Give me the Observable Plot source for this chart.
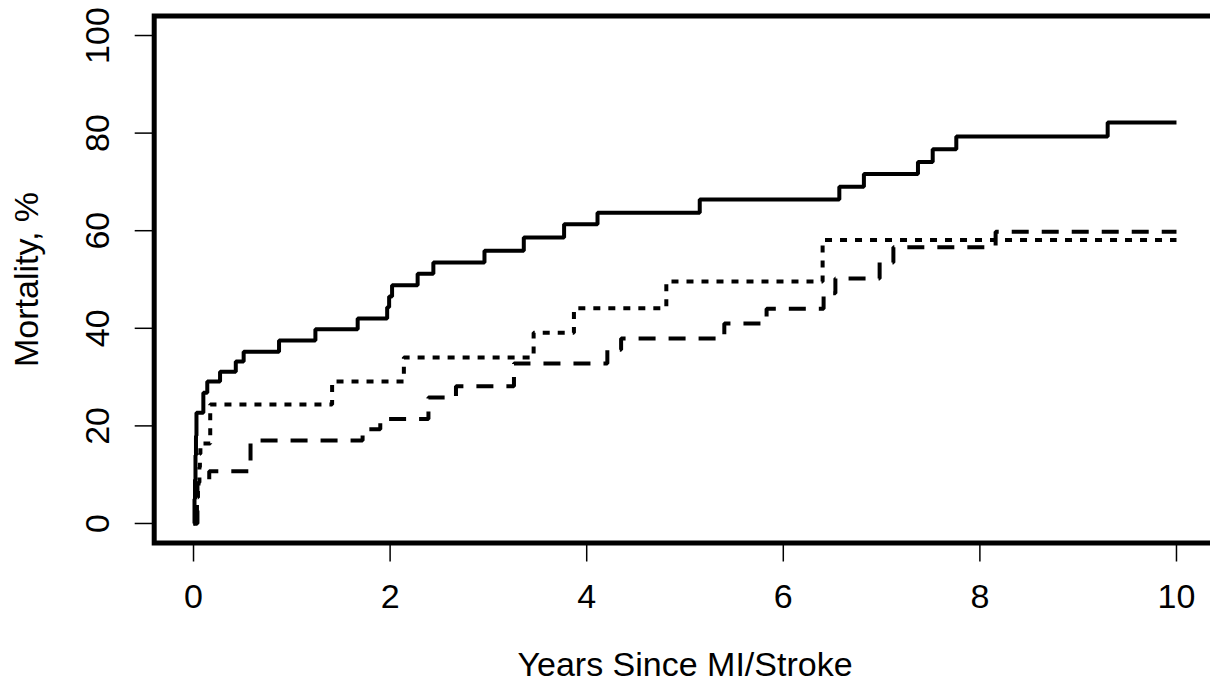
<!DOCTYPE html>
<html>
<head>
<meta charset="utf-8">
<script src="https://cdn.jsdelivr.net/npm/d3@7"></script>
<script src="https://cdn.jsdelivr.net/npm/@observablehq/plot@0.6"></script>
<style>
  html, body { margin: 0; padding: 0; background: #fff; overflow: hidden; }
</style>
</head>
<body>
<div id="chart"></div>
<script>
// Tick labels
const xTicks = [0, 2, 4, 6, 8, 10];
const yTicks = [0, 20, 40, 60, 80, 100];
const xTitle = "Years Since MI/Stroke";
const yTitle = "Mortality, %";

// Series 1 (solid)
const solidT = [0, 0.01, 0.015, 0.02, 0.025, 0.03, 0.10, 0.14, 0.27, 0.43, 0.51, 0.87, 1.24, 1.67, 1.97, 1.99, 2.02, 2.28, 2.44, 2.96, 3.36, 3.77, 4.11, 5.15, 6.57, 6.82, 7.37, 7.52, 7.76, 9.30, 10.0];
const solidV = [0, 5, 9, 14, 18, 22.7, 26.8, 29.1, 31.1, 33.2, 35.2, 37.5, 39.8, 42.0, 44.3, 46.5, 48.8, 51.2, 53.5, 55.9, 58.6, 61.3, 63.7, 66.4, 69.0, 71.6, 74.1, 76.7, 79.3, 82.2, 82.2];

// Series 2 (dotted)
const dottedT = [0, 0.035, 0.045, 0.06, 0.065, 0.07, 0.17, 1.41, 2.14, 3.46, 3.87, 4.81, 6.40, 10.0];
const dottedV = [0, 5.3, 8.4, 11.5, 14.3, 16.4, 24.4, 29.1, 34.0, 39.1, 44.1, 49.6, 58.1, 58.1];

// Series 3 (dashed)
const dashedT = [0, 0.04, 0.16, 0.58, 1.72, 1.90, 2.39, 2.67, 3.26, 4.21, 4.35, 5.40, 5.83, 6.41, 6.53, 6.98, 7.12, 8.16, 10.0];
const dashedV = [0, 8.2, 10.7, 17.0, 19.3, 21.4, 25.8, 28.1, 32.8, 35.6, 37.9, 41.0, 44.0, 47.2, 50.2, 53.5, 56.6, 59.8, 59.8];

const toRows = (ts, vs) => ts.map((t, i) => ({t, v: vs[i]}));
const solid = toRows(solidT, solidV);
const dotted = toRows(dottedT, dottedV);
const dashed = toRows(dashedT, dashedV);

const font = "'Liberation Sans', Arial, Helvetica, sans-serif";
const lineOpts = {x: "t", y: "v", curve: "step-after", stroke: "black", strokeWidth: 4, strokeLinecap: "butt", strokeLinejoin: "miter"};

const chart = Plot.plot({
  width: 1210,
  height: 686,
  marginLeft: 153.7,
  marginRight: -5.3,
  marginTop: 15.5,
  marginBottom: 143.5,
  style: {fontFamily: font, background: "#fff", color: "#000"},
  x: {domain: [-0.4, 10.4]},
  y: {domain: [-4, 104]},
  marks: [
    Plot.axisX(xTicks, {tickSize: 19, tickPadding: 22, fontSize: 34, strokeWidth: 1.5, label: null}),
    Plot.axisY(yTicks, {tickSize: 19, strokeWidth: 1.5, tickFormat: () => "", label: null}),
    Plot.text(yTicks, {y: d => d, text: d => String(d), frameAnchor: "left", dx: -55.7, rotate: -90, textAnchor: "middle", lineAnchor: "middle", fontSize: 34, fill: "black"}),
    Plot.text([xTitle], {text: d => d, frameAnchor: "bottom", dy: 122, lineAnchor: "middle", textAnchor: "middle", fontSize: 34, fill: "black"}),
    Plot.text([yTitle], {text: d => d, frameAnchor: "left", dx: -127, rotate: -90, lineAnchor: "middle", textAnchor: "middle", fontSize: 34, fill: "black"}),
    Plot.line(dashed, {...lineOpts, strokeDasharray: "17,13"}),
    Plot.line(dotted, {...lineOpts, strokeDasharray: "7,8"}),
    Plot.line(solid, lineOpts),
    Plot.frame({stroke: "black", strokeWidth: 5})
  ]
});
document.getElementById("chart").appendChild(chart);
</script>
</body>
</html>
